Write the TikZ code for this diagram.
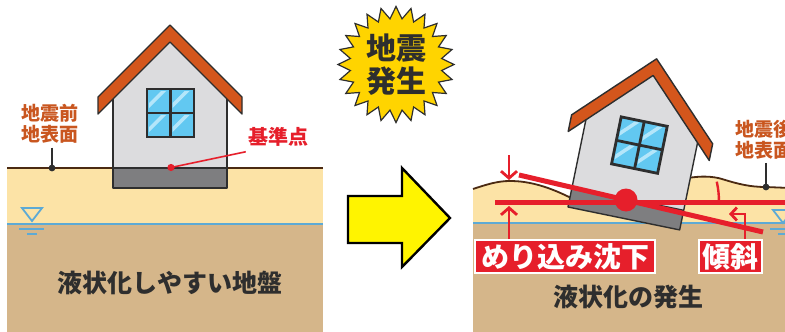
\documentclass[tikz,border=0pt]{standalone}
\usepackage{fontspec}
\newfontfamily\jp{Noto Sans CJK JP}
\newfontfamily\jpheavy{Noto Sans CJK JP Black}
\usetikzlibrary{arrows.meta}

\definecolor{sand}{HTML}{FCE3A6}
\definecolor{soil}{HTML}{D5B68A}
\definecolor{groundline}{HTML}{4B2A12}
\definecolor{water}{HTML}{5DAAD5}
\definecolor{roofc}{HTML}{D4561C}
\definecolor{wallc}{HTML}{DCDCDE}
\definecolor{footc}{HTML}{7E7E80}
\definecolor{glass}{HTML}{62C8F1}
\definecolor{glasshi}{HTML}{B4E6FA}
\definecolor{markred}{HTML}{E61F2B}
\definecolor{labelc}{HTML}{C9561F}
\definecolor{inkc}{HTML}{2E2E2E}
\definecolor{burst}{HTML}{FFD400}
\definecolor{bigarrow}{HTML}{FFF400}

\tikzset{
  outl/.style={draw=inkc, line width=1.4pt, line join=round},
  redline/.style={draw=markred, line width=5pt},
  redarrow/.style={draw=markred, line width=2.8pt, -{Straight Barb[length=7pt,width=16pt]}},
  orangelbl/.style={text=labelc, font=\jp\bfseries\fontsize{19}{21}\selectfont, inner sep=1pt},
  redbox/.style={fill=markred, draw=white, line width=2pt, text=white,
    font=\jp\bfseries\fontsize{28}{28}\selectfont, inner ysep=2.5pt, minimum height=33pt},
  bodytext/.style={text=inkc, font=\jp\bfseries\fontsize{25}{25}\selectfont},
}

% House drawn with its origin at the bottom-left corner of the footing
\newcommand\myhouse{%
  \fill[wallc] (0,0) -- (0,-89) -- (57,-146) -- (114,-89) -- (114,0) -- cycle;
  \fill[footc] (0,0) rectangle (114,-20);
  \draw[outl] (0,-20) -- (114,-20);
  \draw[outl] (0,-89) -- (0,0) -- (114,0) -- (114,-89);
  % window
  \fill[glass] (34,-99) rectangle (81,-51);
  \foreach \px/\py in {34/-99, 57.5/-99, 34/-75, 57.5/-75}{
    \fill[glasshi] (\px+2,\py+14) -- (\px+14,\py+2) -- (\px+19,\py+2) -- (\px+2,\py+19) -- cycle;
  }
  \draw[draw=inkc, line width=2.8pt] (34,-99) rectangle (81,-51);
  \draw[draw=inkc, line width=2.8pt] (57.5,-99) -- (57.5,-51) (34,-75) -- (81,-75);
  % roof
  \filldraw[fill=roofc, outl] (57,-163) -- (-15,-91) -- (-15,-74) -- (57,-146)
    -- (129,-74) -- (129,-91) -- cycle;
}

\begin{document}
\begin{tikzpicture}[x=1pt, y=-1pt]
\useasboundingbox (0,0) rectangle (785,332);
\clip (0,0) rectangle (785,332);
\fill[white] (0,0) rectangle (785,332);

% ---------- before the earthquake ----------
\fill[sand] (7,168) rectangle (323,224);
\fill[soil] (7,224) rectangle (323,332);
\draw[water, line width=2pt] (7,224) -- (323,224);
\draw[groundline, line width=1.8pt] (7,168) -- (323,168);
% water table symbol
\draw[water, line width=1.8pt, fill=sand] (22,208) -- (42,208) -- (32,221) -- cycle;
\draw[water, line width=1.6pt] (19,229) -- (44,229) (27,234) -- (37,234);

\begin{scope}[shift={(113,188)}]
  \myhouse
\end{scope}

\coordinate (refpt) at (171,167.5);
\node[text=markred, font=\jp\bfseries\fontsize{20}{20}\selectfont, inner sep=1pt] (reflbl) at (278,137) {基準点};
\draw[markred, line width=1.6pt] (refpt) -- ([xshift=-1pt,yshift=-4pt]reflbl.south west);
\fill[markred] (refpt) circle (3.6pt);

\node[orangelbl, align=center] (beforelbl) at (50,124) {地震前\\地表面};
\coordinate (beforept) at (52,168);
\draw[inkc, line width=1.6pt] (beforelbl.south -| beforept) ++(0,3) -- (beforept);
\fill[inkc] (beforept) circle (3.4pt);

\node[bodytext] (leftcap) at (170,283) {液状化しやすい地盤};

% ---------- earthquake burst and arrow ----------
\filldraw[fill=burst, draw=inkc, line width=1.2pt, line join=miter]
  plot[samples at={0,...,47}, variable=\i]
  ({396+(58-12*mod(\i,2))*cos(7.5*\i)}, {64.5+(58-12*mod(\i,2))*sin(7.5*\i)}) -- cycle;
\node[text=inkc, font=\jpheavy\fontsize{30}{33}\selectfont, align=center, inner sep=0pt] (quake) at (396,64.5) {地震\\発生};

\filldraw[fill=bigarrow, draw=black, line width=2.4pt, line join=miter]
  (348,196) -- (402,196) -- (402,168) -- (450,218) -- (402,267) -- (402,243) -- (348,243) -- cycle;

% ---------- after the earthquake ----------
\fill[sand] (473,189) .. controls (488,184) and (498,181) .. (510,181)
  .. controls (530,181) and (550,187) .. (575,200) -- (680,200)
  -- (690,178) .. controls (700,176) and (712,176) .. (722,179)
  .. controls (738,184) and (750,187) .. (766,187) -- (790,188) -- (790,223) -- (473,223) -- cycle;
\fill[soil] (473,223) rectangle (790,332);
\draw[water, line width=2pt] (473,223) -- (790,223);
\draw[groundline, line width=1.8pt] (473,189) .. controls (488,184) and (498,181) .. (510,181)
  .. controls (530,181) and (550,187) .. (575,200);
\draw[groundline, line width=1.8pt] (688,178) .. controls (700,176) and (712,176) .. (722,179)
  .. controls (738,184) and (750,187) .. (766,187) -- (790,188);
\draw[water, line width=1.8pt, fill=sand] (773,210) -- (793,210) -- (783,223) -- cycle;
\draw[water, line width=1.6pt] (770,229) -- (795,229) (778,234) -- (790,234);

\node[orangelbl, align=left, anchor=west] (afterlbl) at (734,140) {地震後\\地表面};
\coordinate (afterpt) at (766,187);
\draw[inkc, line width=1.6pt] (afterlbl.south -| afterpt) ++(0,2) -- (afterpt);
\fill[inkc] (afterpt) circle (3.4pt);

\begin{scope}[shift={(568,207)}, rotate=-11.6]
  \myhouse
\end{scope}

% settlement and tilt marks
\coordinate (center) at (626,200);
\coordinate (tiltA) at (519,175);
\coordinate (tiltB) at (763,232);
\coordinate (levelA) at (495,202);
\coordinate (levelB) at (790,202);
\draw[redline] (levelA) -- (levelB);
\draw[redline] (tiltA) -- (tiltB);
\fill[markred] (center) circle (11.5pt);
\draw[markred, line width=2.4pt] (719,202) arc[start angle=0, end angle=-12.5, radius=94];

\node[redbox, inner xsep=6pt] (sinkbox) at (565,256.5) {めり込み沈下};
\node[redbox, inner xsep=3.5pt] (tiltbox) at (730.5,256.5) {傾斜};

\coordinate (hump) at (509,180);
\coordinate (humpTop) at (509,155);
\coordinate (levelTip) at (509,206);
\draw[redarrow] (humpTop) -- (hump);
\draw[redarrow] (sinkbox.north -| levelTip) -- (levelTip);

\coordinate (tiltTip) at (729,214);
\draw[redarrow, -{Straight Barb[length=6pt,width=13pt]}] (tiltbox.north -| 745,0) |- (tiltTip);

\node[bodytext] (rightcap) at (628,297) {液状化の発生};
\end{tikzpicture}
\end{document}
